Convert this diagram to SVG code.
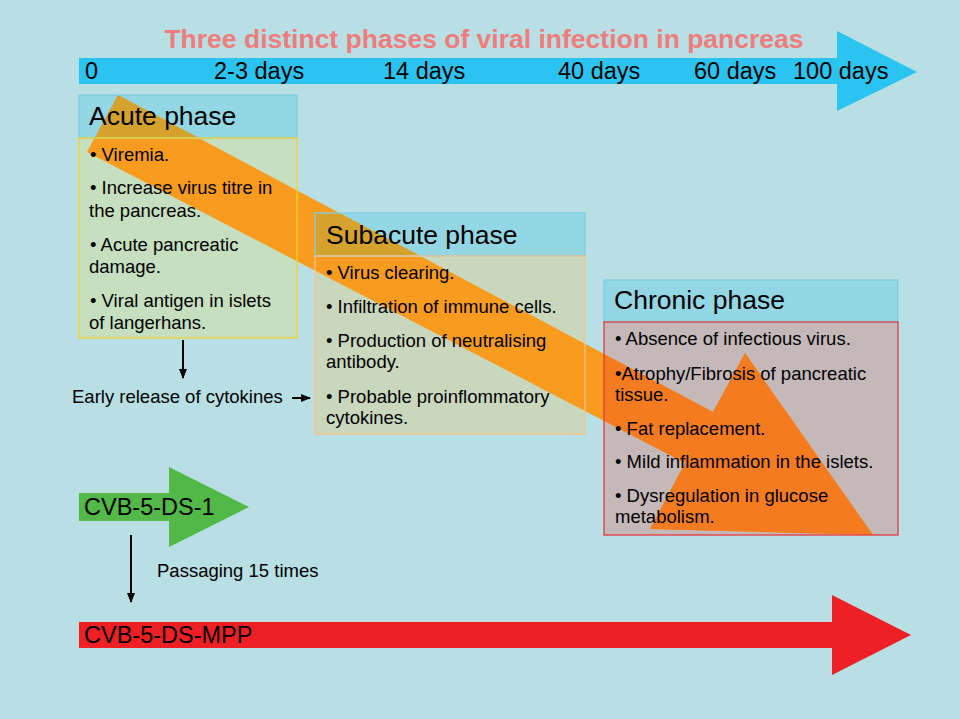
<svg xmlns="http://www.w3.org/2000/svg" xmlns:xlink="http://www.w3.org/1999/xlink" width="960" height="719" viewBox="0 0 960 719">
<style>
text{font-family:"Liberation Sans",Arial,sans-serif;fill:#000}
.title{font-size:26.5px;font-weight:bold;fill:#f07c7c}
.tl{font-size:23.5px}
.hd{font-size:26.5px}
.bd{font-size:18.5px}
.lbl{font-size:18.5px}
.big{font-size:23.5px}
.hdr{fill:#93d6e4}
.hdrs{fill:none;stroke:#7ccfe2;stroke-width:1.3}
.conn{stroke:#000;stroke-width:2;fill:none}
</style>
<defs>
<path id="prog" d="M118,95 L713,412 L745,353 L873,535 L650,529 L685,463 L87,152 Z"/>
<clipPath id="hclip">
<rect x="79" y="95" width="218" height="43"/>
<rect x="315" y="213" width="270" height="43"/>
</clipPath>
<clipPath id="cclip"><rect x="604" y="322" width="294" height="213"/></clipPath>
<marker id="ah" viewBox="0 0 10 10" refX="9" refY="5" markerWidth="5" markerHeight="5" orient="auto" markerUnits="strokeWidth">
<path d="M0,1 L10,5 L0,9 Z" fill="#000"/>
</marker>
</defs>
<rect x="0" y="0" width="960" height="719" fill="#b8dfe3"/>
<text class="title" x="484" y="48" text-anchor="middle">Three distinct phases of viral infection in pancreas</text>
<g id="timeline">
<path d="M79,58 L837,58 L837,31 L917,72 L837,111 L837,84 L79,84 Z" fill="#2bc4f1"/>
<text class="tl" x="85" y="79">0</text>
<text class="tl" x="214" y="79">2-3 days</text>
<text class="tl" x="383" y="79">14 days</text>
<text class="tl" x="558" y="79">40 days</text>
<text class="tl" x="694" y="79">60 days</text>
<text class="tl" x="793" y="79">100 days</text>
</g>
<rect x="79" y="138" width="218" height="200" fill="#c6dfbe"/>
<rect x="315" y="256" width="270" height="178" fill="#c9d7bd"/>
<rect x="604" y="322" width="294" height="213" fill="#c5b8b9"/>
<rect class="hdr" x="79" y="95" width="218" height="43"/>
<rect class="hdr" x="315" y="213" width="270" height="43"/>
<rect class="hdr" x="604" y="280" width="294" height="42"/>
<g id="progression-arrow">
<use xlink:href="#prog" href="#prog" fill="#f89b1f"/>
<use xlink:href="#prog" href="#prog" fill="#d5a22e" clip-path="url(#hclip)"/>
<use xlink:href="#prog" href="#prog" fill="#f47b20" clip-path="url(#cclip)"/>
</g>
<g id="acute-phase">
<rect class="hdrs" x="79" y="95" width="218" height="43"/>
<rect x="79" y="138" width="218" height="200" fill="none" stroke="#f5d22c" stroke-width="1.3"/>
<text class="hd" x="89" y="125">Acute phase</text>
<text class="bd" x="90" y="161">• Viremia.</text>
<text class="bd" x="90" y="194">• Increase virus titre in</text>
<text class="bd" x="89" y="217">the pancreas.</text>
<text class="bd" x="90" y="251">• Acute pancreatic</text>
<text class="bd" x="89" y="273">damage.</text>
<text class="bd" x="90" y="307">• Viral antigen in islets</text>
<text class="bd" x="89" y="329">of langerhans.</text>
</g>
<g id="subacute-phase">
<rect class="hdrs" x="315" y="213" width="270" height="43"/>
<rect x="315" y="256" width="270" height="178" fill="none" stroke="#f8c28a" stroke-width="1.3"/>
<text class="hd" x="326" y="244">Subacute phase</text>
<text class="bd" x="326" y="279">• Virus clearing.</text>
<text class="bd" x="326" y="313">• Infiltration of immune cells.</text>
<text class="bd" x="326" y="347">• Production of neutralising</text>
<text class="bd" x="326" y="368">antibody.</text>
<text class="bd" x="326" y="403">• Probable proinflommatory</text>
<text class="bd" x="326" y="424">cytokines.</text>
</g>
<g id="chronic-phase">
<rect class="hdrs" x="604" y="280" width="294" height="42"/>
<rect x="604" y="322" width="294" height="213" fill="none" stroke="#e8383c" stroke-width="1.3"/>
<text class="hd" x="614" y="309">Chronic phase</text>
<text class="bd" x="615" y="345">• Absence of infectious virus.</text>
<text class="bd" x="615" y="380">•Atrophy/Fibrosis of pancreatic</text>
<text class="bd" x="615" y="401">tissue.</text>
<text class="bd" x="615" y="435">• Fat replacement.</text>
<text class="bd" x="615" y="468">• Mild inflammation in the islets.</text>
<text class="bd" x="615" y="502">• Dysregulation in glucose</text>
<text class="bd" x="615" y="523">metabolism.</text>
</g>
<g id="early-release">
<text class="lbl" x="72" y="403">Early release of cytokines</text>
</g>
<g id="cvb-5-ds-1">
<path d="M79,493 L169,493 L169,467 L249,507 L169,547 L169,521 L79,521 Z" fill="#52b848"/>
<text class="big" x="84" y="515">CVB-5-DS-1</text>
</g>
<g id="passaging">
<text class="lbl" x="157" y="577">Passaging 15 times</text>
</g>
<g id="cvb-5-ds-mpp">
<path d="M79,622 L832,622 L832,595 L911,635 L832,675 L832,648 L79,648 Z" fill="#ee1f25"/>
<text class="big" x="84" y="643">CVB-5-DS-MPP</text>
</g>
<g id="connectors">
<line class="conn" x1="183" y1="340" x2="183" y2="378" marker-end="url(#ah)"/>
<line class="conn" x1="292" y1="398" x2="310" y2="398" marker-end="url(#ah)"/>
<line class="conn" x1="131" y1="535" x2="131" y2="602" marker-end="url(#ah)"/>
</g>
</svg>
